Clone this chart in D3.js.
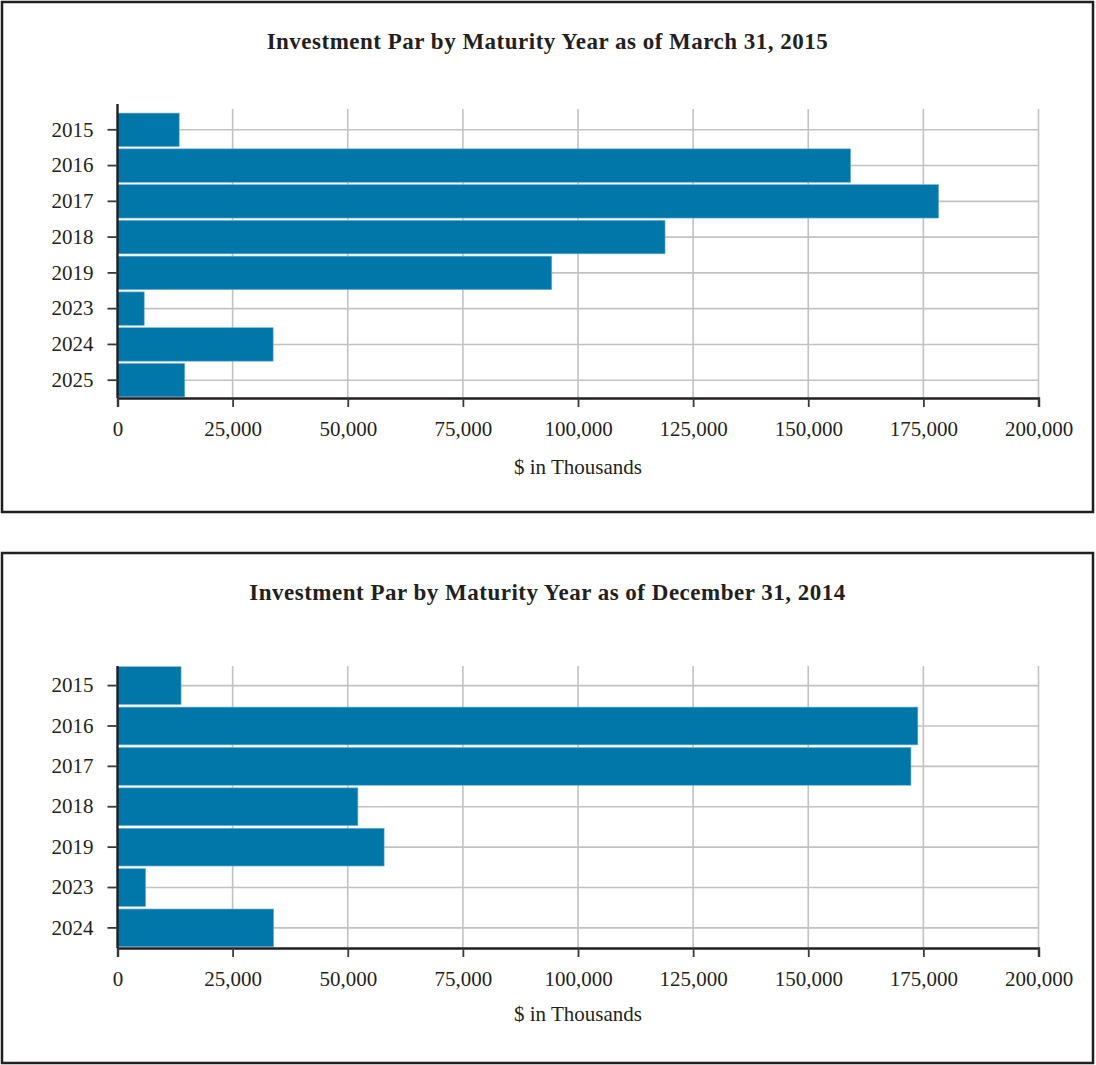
<!DOCTYPE html>
<html lang="en">
    <head>
        <meta charset="UTF-8">
        <title>Investment Par by Maturity Year</title>
        <style>
            body { margin: 0; background: #fff; }
            svg text { font-family: "Liberation Serif", "DejaVu Serif", serif; fill: #231f20; }
        </style>
        <script src="https://cdn.jsdelivr.net/npm/d3@7"></script>
    </head>
    <body>
        <script>
            // data ($ in thousands)
            const xTicks = [0, 25000, 50000, 75000, 100000, 125000, 150000, 175000, 200000];

            const marYears = ["2015", "2016", "2017", "2018", "2019", "2023", "2024", "2025"];
            const marValues = [13400, 159200, 178300, 118900, 94300, 5800, 33800, 14600];

            const decYears = ["2015", "2016", "2017", "2018", "2019", "2023", "2024"];
            const decValues = [13800, 173800, 172300, 52200, 57900, 6100, 33900];

            const titles = [
                "Investment Par by Maturity Year as of March 31, 2015",
                "Investment Par by Maturity Year as of December 31, 2014"
            ];
            const axisTitle = "$ in Thousands";

            const barColor = "#0076a9";
            const gridColor = "#c2c2c2";

            const svg = d3.select("body")
                .append("svg")
                .attr("width", 1096)
                .attr("height", 1065);

            const xScale = d3.scaleLinear()
                .domain([0, 200000])
                .range([117.5, 1038.5]);

            function drawPanel(cfg) {
                const g = svg.append("g");

                // panel frame
                g.append("rect")
                    .attr("x", 2)
                    .attr("y", cfg.top)
                    .attr("width", 1091)
                    .attr("height", 510)
                    .attr("fill", "none")
                    .attr("stroke", "#231f20")
                    .attr("stroke-width", 2.5);

                g.append("text")
                    .attr("x", 547.5)
                    .attr("y", cfg.top + 47)
                    .attr("text-anchor", "middle")
                    .attr("font-size", 23)
                    .attr("letter-spacing", 0.5)
                    .attr("font-weight", "bold")
                    .text(cfg.title);

                const yScale = d3.scaleBand()
                    .domain(cfg.years)
                    .range([cfg.top + cfg.plotTop, cfg.top + cfg.plotBottom])
                    .paddingInner(0.065)
                    .paddingOuter(0.03);

                const bottom = cfg.top + cfg.plotBottom;

                // grid
                g.append("g")
                    .selectAll("line")
                    .data(cfg.years)
                    .enter()
                    .append("line")
                    .attr("x1", xScale(0))
                    .attr("x2", xScale(200000))
                    .attr("y1", (d)=>yScale(d) + yScale.bandwidth()/2)
                    .attr("y2", (d)=>yScale(d) + yScale.bandwidth()/2)
                    .attr("stroke", gridColor)
                    .attr("stroke-width", 1.6);

                g.append("g")
                    .selectAll("line")
                    .data(xTicks.slice(1))
                    .enter()
                    .append("line")
                    .attr("x1", (d)=>xScale(d))
                    .attr("x2", (d)=>xScale(d))
                    .attr("y1", cfg.top + cfg.gridTop)
                    .attr("y2", bottom)
                    .attr("stroke", gridColor)
                    .attr("stroke-width", 1.6);

                // bars
                g.append("g")
                    .selectAll("rect")
                    .data(cfg.years.map((y, i)=>({year: y, value: cfg.values[i]})))
                    .enter()
                    .append("rect")
                    .attr("x", xScale(0))
                    .attr("y", (d)=>yScale(d.year))
                    .attr("width", (d)=>xScale(d.value) - xScale(0))
                    .attr("height", yScale.bandwidth())
                    .attr("fill", barColor)
                    .attr("stroke", "#6db3d6")
                    .attr("stroke-width", 0.6);

                // axes
                const xAxis = g.append("g")
                    .attr("transform", "translate(0," + bottom + ")")
                    .call(d3.axisBottom(xScale)
                        .tickValues(xTicks)
                        .tickSize(9)
                        .tickPadding(14)
                        .tickFormat(d3.format(",")));
                xAxis.select(".domain")
                    .attr("stroke", "#231f20")
                    .attr("stroke-width", 2.4);
                xAxis.selectAll(".tick line")
                    .attr("stroke", "#3a3a3a")
                    .attr("stroke-width", 1.8);
                xAxis.selectAll("text")
                    .attr("font-size", 21)
                    .attr("font-family", null)
                    .attr("fill", "#231f20");

                const yAxis = g.append("g")
                    .attr("transform", "translate(" + xScale(0) + ",0)")
                    .call(d3.axisLeft(yScale)
                        .tickSize(10)
                        .tickPadding(14)
                        .tickSizeOuter(0));
                yAxis.select(".domain")
                    .attr("d", "M0," + (cfg.top + cfg.axisTop) + "V" + bottom)
                    .attr("stroke", "#231f20")
                    .attr("stroke-width", 2.4);
                yAxis.selectAll(".tick line")
                    .attr("stroke", "#3a3a3a")
                    .attr("stroke-width", 1.8);
                yAxis.selectAll("text")
                    .attr("font-size", 21)
                    .attr("font-family", null)
                    .attr("fill", "#231f20");

                g.append("text")
                    .attr("x", (xScale(0) + xScale(200000))/2)
                    .attr("y", bottom + cfg.labelGap)
                    .attr("text-anchor", "middle")
                    .attr("font-size", 21)
                    .text(axisTitle);
            }

            drawPanel({
                top: 2, title: titles[0], years: marYears, values: marValues,
                plotTop: 110, plotBottom: 396, gridTop: 107, axisTop: 102, labelGap: 76
            });

            drawPanel({
                top: 553, title: titles[1], years: decYears, values: decValues,
                plotTop: 112.5, plotBottom: 395, gridTop: 113, axisTop: 113, labelGap: 73
            });
        </script>
    </body>
</html>
